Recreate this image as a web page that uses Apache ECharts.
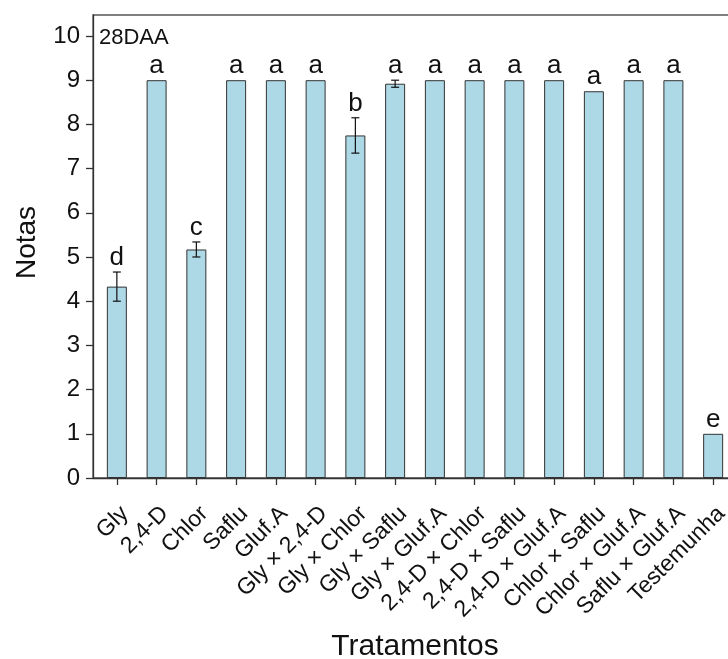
<!DOCTYPE html>
<html>
<head>
<meta charset="utf-8">
<script src="https://cdn.jsdelivr.net/npm/echarts@6/dist/echarts.min.js"></script>
<style>
  html, body { margin: 0; padding: 0; background: #fff; }
  #main { width: 728px; height: 659px; }
</style>
</head>
<body>
<div id="main"></div>
<script>
  // dados (28 DAA)
  const categories = ['Gly', '2,4-D', 'Chlor', 'Saflu', 'Gluf.A', 'Gly × 2,4-D', 'Gly × Chlor',
    'Gly × Saflu', 'Gly × Gluf.A', '2,4-D × Chlor', '2,4-D × Saflu', '2,4-D × Gluf.A',
    'Chlor × Saflu', 'Chlor × Gluf.A', 'Saflu × Gluf.A', 'Testemunha'];
  const notas = [4.33, 9, 5.17, 9, 9, 9, 7.75, 8.92, 9, 9, 9, 9, 8.75, 9, 9, 1];
  const erro = [0.33, 0, 0.17, 0, 0, 0, 0.4, 0.08, 0, 0, 0, 0, 0, 0, 0, 0];
  const letras = ['d', 'a', 'c', 'a', 'a', 'a', 'b', 'a', 'a', 'a', 'a', 'a', 'a', 'a', 'a', 'e'];
  const yTicks = [0, 1, 2, 3, 4, 5, 6, 7, 8, 9, 10];

  const font = "'Liberation Sans', Arial, sans-serif";
  const xIdx = categories.map((c, i) => i);
  const barData = notas.map((v, i) => [i, v]);
  const errData = notas.map((v, i) => [i, v, erro[i]]);

  const option = {
    animation: false,
    textStyle: { fontFamily: font },
    title: {
      text: '28DAA',
      left: 99,
      top: 27,
      padding: 0,
      textStyle: { fontFamily: font, fontSize: 22, fontWeight: 'normal', color: '#111' }
    },
    grid: {
      left: 93,
      top: 15,
      width: 644,
      bottom: 181,
      show: true,
      borderColor: '#555',
      borderWidth: 1.3,
      outerBoundsMode: 'none'
    },
    xAxis: {
      type: 'value',
      min: -0.6,
      max: 15.6,
      name: 'Tratamentos',
      nameLocation: 'middle',
      nameGap: 154,
      nameTextStyle: { fontFamily: font, fontSize: 30, color: '#111' },
      axisLine: { show: true, onZero: false, lineStyle: { color: '#333', width: 1.3 } },
      axisTick: { show: true, length: 7, customValues: xIdx, lineStyle: { color: '#333', width: 1.3 } },
      axisLabel: {
        customValues: xIdx,
        rotate: 45,
        margin: 24,
        fontSize: 23,
        color: '#111',
        fontFamily: font,
        align: 'right',
        verticalAlign: 'top',
        formatter: v => categories[Math.round(v)]
      },
      splitLine: { show: false }
    },
    yAxis: {
      type: 'value',
      min: 0,
      max: 10.475,
      name: 'Notas',
      nameLocation: 'middle',
      nameGap: 52,
      nameTextStyle: { fontFamily: font, fontSize: 28, color: '#111', padding: [0, 0, 0, 8] },
      axisLine: { show: true, onZero: false, lineStyle: { color: '#333', width: 1.3 } },
      axisTick: { show: true, length: 7, customValues: yTicks, lineStyle: { color: '#333', width: 1.3 } },
      axisLabel: { customValues: yTicks, margin: 13, fontSize: 24, color: '#111', fontFamily: font },
      splitLine: { show: false }
    },
    series: [
      {
        type: 'bar',
        data: barData,
        barWidth: 20,
        itemStyle: { color: '#ADD8E6', borderColor: '#333', borderWidth: 1 }
      },
      {
        type: 'custom',
        data: errData,
        z: 5,
        renderItem: function (params, api) {
          const i = api.value(0), m = api.value(1), s = api.value(2);
          if (!s) return null;
          const top = api.coord([i, m + s]);
          const bot = api.coord([i, m - s]);
          const h = 4;
          const st = { stroke: '#111', lineWidth: 1.2 };
          return {
            type: 'group',
            children: [
              { type: 'line', shape: { x1: top[0], y1: top[1], x2: bot[0], y2: bot[1] }, style: st },
              { type: 'line', shape: { x1: top[0] - h, y1: top[1], x2: top[0] + h, y2: top[1] }, style: st },
              { type: 'line', shape: { x1: bot[0] - h, y1: bot[1], x2: bot[0] + h, y2: bot[1] }, style: st }
            ]
          };
        }
      },
      {
        type: 'custom',
        data: errData,
        z: 6,
        renderItem: function (params, api) {
          const i = api.value(0), m = api.value(1), s = api.value(2);
          const p = api.coord([i, m + s]);
          return {
            type: 'text',
            style: {
              text: letras[params.dataIndex],
              x: p[0],
              y: p[1] - 1,
              fill: '#111',
              font: '26px ' + font,
              align: 'center',
              verticalAlign: 'bottom'
            }
          };
        }
      }
    ]
  };

  const chart = echarts.init(document.getElementById('main'));
  chart.setOption(option);
</script>
</body>
</html>
